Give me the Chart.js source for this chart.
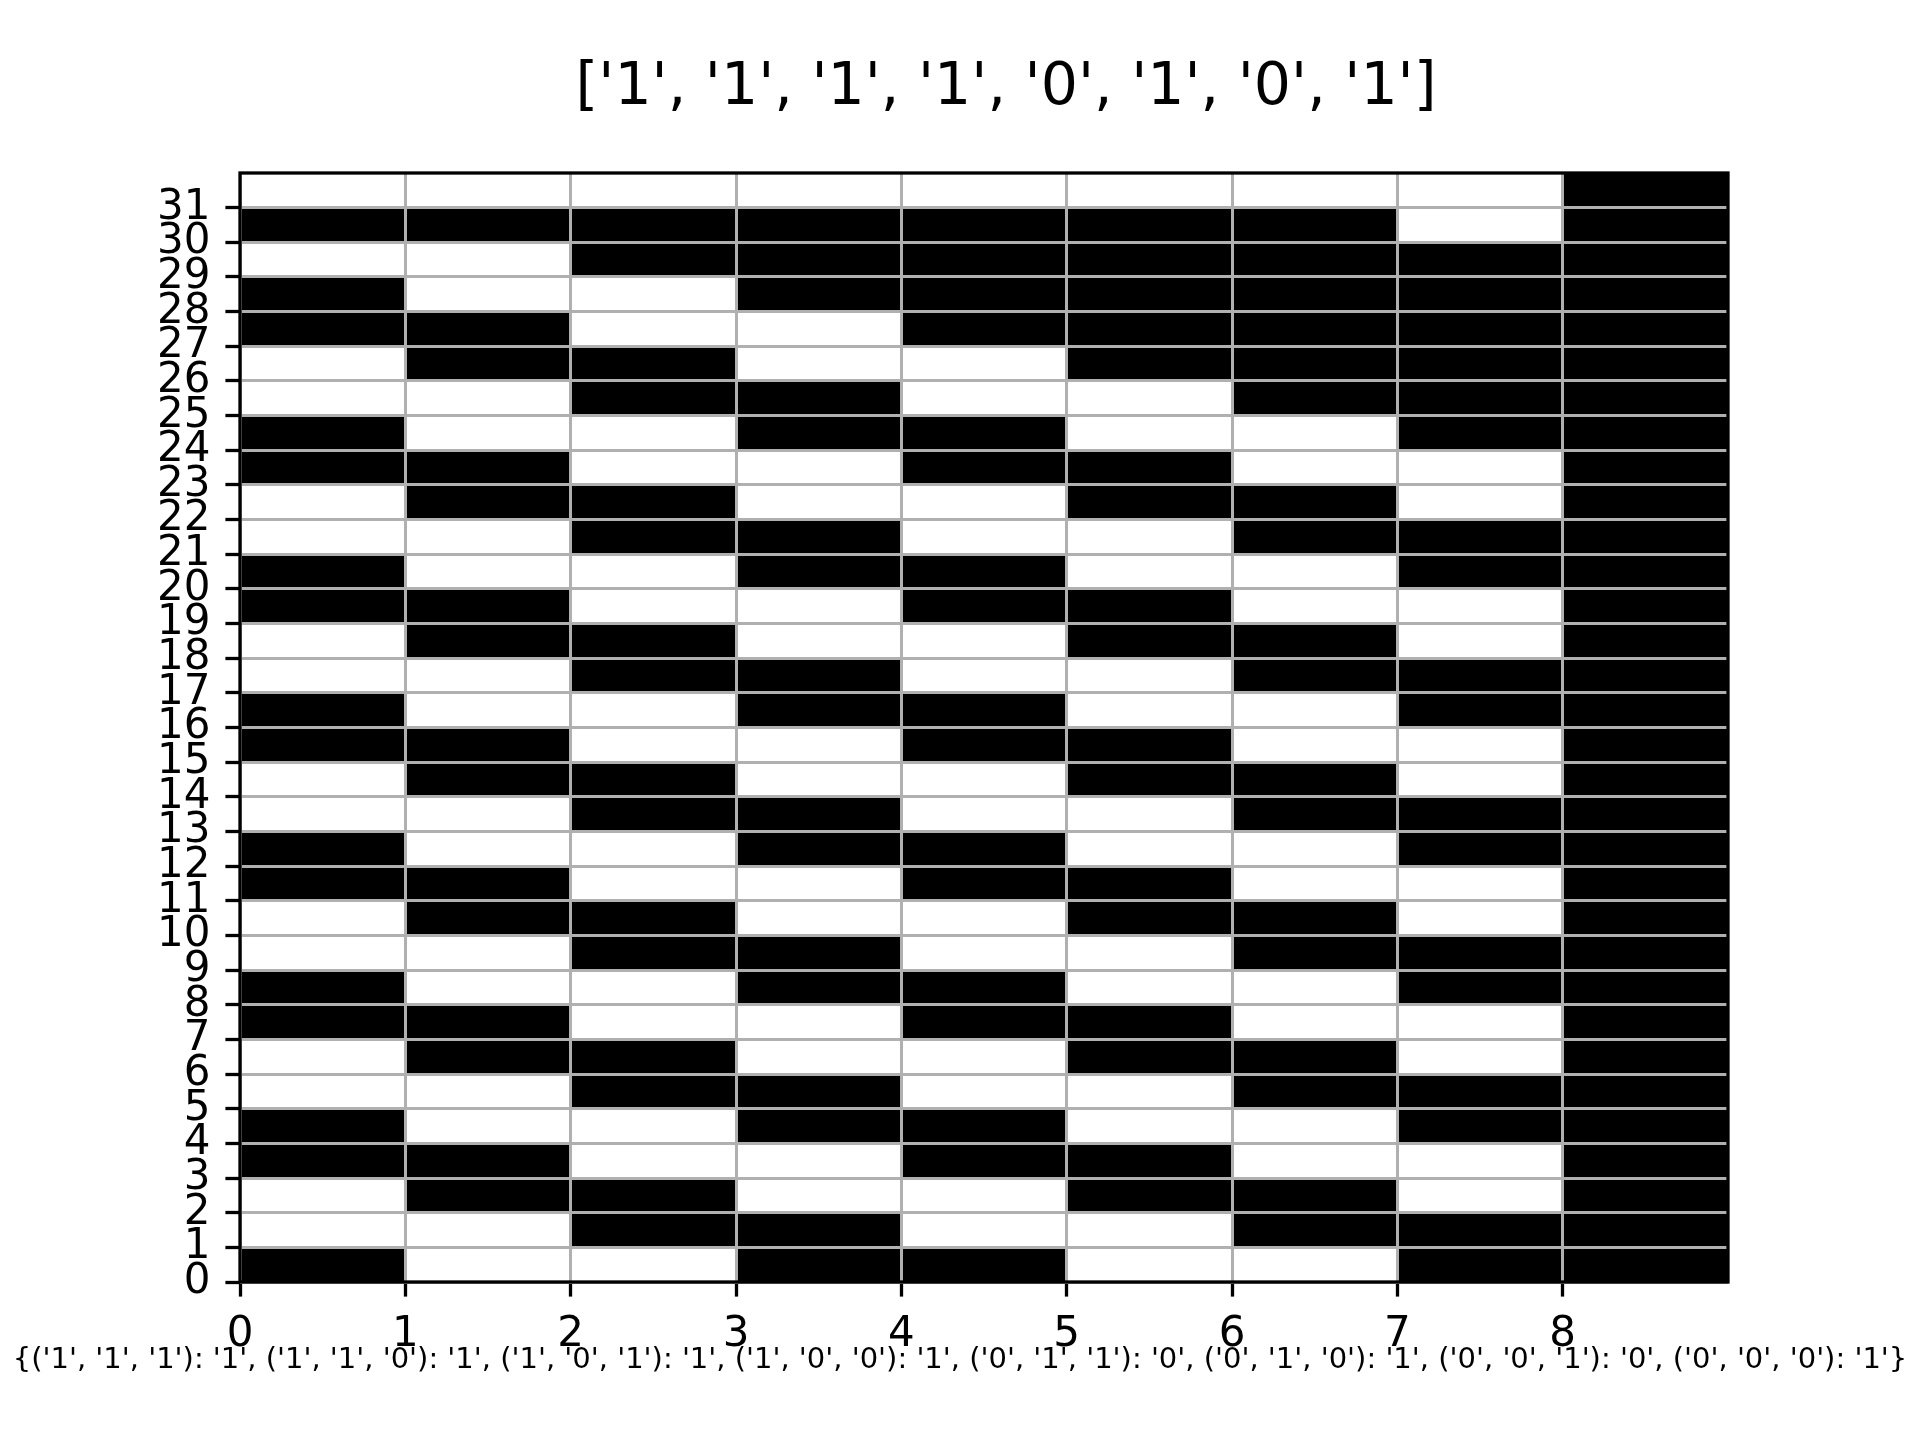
<!DOCTYPE html>
<html>
<head>
<meta charset="utf-8">
<script src="https://cdn.jsdelivr.net/npm/chart.js@4.4.1/dist/chart.umd.min.js"></script>
<style>
  html, body { margin: 0; padding: 0; background: #ffffff; }
  #wrap { width: 1920px; height: 1440px; position: relative; }
</style>
</head>
<body>
<div id="wrap"><canvas id="c"></canvas></div>
<script>
// ---- data ----
const titleText = "['1', '1', '1', '1', '0', '1', '0', '1']";
const ruleLabel = "{('1', '1', '1'): '1', ('1', '1', '0'): '1', ('1', '0', '1'): '1', ('1', '0', '0'): '1', ('0', '1', '1'): '0', ('0', '1', '0'): '1', ('0', '0', '1'): '0', ('0', '0', '0'): '1'}";
const xTicks = [0, 1, 2, 3, 4, 5, 6, 7, 8];
const yTicks = [0, 1, 2, 3, 4, 5, 6, 7, 8, 9, 10, 11, 12, 13, 14, 15, 16, 17, 18, 19, 20, 21, 22, 23, 24, 25, 26, 27, 28, 29, 30, 31];
// cell states, row 0 (bottom) first; 1 = black, 0 = white
const cellRows = [
  [1,0,0,1,1,0,0,1,1],
  [0,0,1,1,0,0,1,1,1],
  [0,1,1,0,0,1,1,0,1],
  [1,1,0,0,1,1,0,0,1],
  [1,0,0,1,1,0,0,1,1],
  [0,0,1,1,0,0,1,1,1],
  [0,1,1,0,0,1,1,0,1],
  [1,1,0,0,1,1,0,0,1],
  [1,0,0,1,1,0,0,1,1],
  [0,0,1,1,0,0,1,1,1],
  [0,1,1,0,0,1,1,0,1],
  [1,1,0,0,1,1,0,0,1],
  [1,0,0,1,1,0,0,1,1],
  [0,0,1,1,0,0,1,1,1],
  [0,1,1,0,0,1,1,0,1],
  [1,1,0,0,1,1,0,0,1],
  [1,0,0,1,1,0,0,1,1],
  [0,0,1,1,0,0,1,1,1],
  [0,1,1,0,0,1,1,0,1],
  [1,1,0,0,1,1,0,0,1],
  [1,0,0,1,1,0,0,1,1],
  [0,0,1,1,0,0,1,1,1],
  [0,1,1,0,0,1,1,0,1],
  [1,1,0,0,1,1,0,0,1],
  [1,0,0,1,1,0,0,1,1],
  [0,0,1,1,0,0,1,1,1],
  [0,1,1,0,0,1,1,1,1],
  [1,1,0,0,1,1,1,1,1],
  [1,0,0,1,1,1,1,1,1],
  [0,0,1,1,1,1,1,1,1],
  [1,1,1,1,1,1,1,0,1],
  [0,0,0,0,0,0,0,0,1]
];
const xMax = 9;
const yMax = 32;

// ---- build dataset from the arrays ----
const cellData = [];
cellRows.forEach((row, r) => {
  row.forEach((v, c) => {
    cellData.push({ x: [c, c + 1], y: r + 0.5, v: v });
  });
});

Chart.defaults.font.family = "'DejaVu Sans', sans-serif";
Chart.defaults.color = '#000000';

const framePlugin = {
  id: 'frameAndLabel',
  afterDraw(chart) {
    const { ctx, chartArea } = chart;
    ctx.save();
    ctx.strokeStyle = '#000000';
    ctx.lineWidth = 3.3;
    ctx.strokeRect(chartArea.left, chartArea.top, chartArea.right - chartArea.left, chartArea.bottom - chartArea.top);
    ctx.fillStyle = '#000000';
    ctx.font = "29px 'DejaVu Sans'";
    ctx.textAlign = 'center';
    ctx.textBaseline = 'middle';
    ctx.fillText(ruleLabel, chart.width / 2, 1360);
    ctx.restore();
  }
};

const gridOpts = {
  color: '#b0b0b0',
  lineWidth: 3,
  z: 1,
  offset: false,
  drawTicks: true,
  tickColor: '#000000',
  tickWidth: 3.3,
  tickLength: 14.6
};

new Chart(document.getElementById('c'), {
  type: 'bar',
  data: {
    datasets: [{
      data: cellData,
      backgroundColor: (ctx) => (ctx.raw && ctx.raw.v ? '#000000' : '#ffffff'),
      borderWidth: 0,
      barPercentage: 1,
      categoryPercentage: 1,
      grouped: false
    }]
  },
  options: {
    indexAxis: 'y',
    responsive: true,
    maintainAspectRatio: false,
    animation: false,
    events: [],
    layout: { padding: { left: 92, right: 0, top: 0, bottom: 0 } },
    plugins: {
      legend: { display: false },
      tooltip: { enabled: false },
      title: {
        display: true,
        text: titleText,
        color: '#000000',
        font: { family: "'DejaVu Sans'", size: 58.5, weight: 'normal', lineHeight: 1.2 },
        padding: { top: 54, bottom: 48.8 }
      }
    },
    scales: {
      x: {
        type: 'linear',
        position: 'bottom',
        min: 0,
        max: xMax,
        offset: false,
        afterBuildTicks: (s) => { s.ticks = xTicks.map(v => ({ value: v })); },
        afterFit: (s) => { s.height = 158; },
        ticks: { autoSkip: false, maxRotation: 0, padding: 13, color: '#000000', font: { size: 42 } },
        grid: gridOpts,
        border: { display: false }
      },
      y: {
        type: 'linear',
        position: 'left',
        min: 0,
        max: yMax,
        offset: false,
        afterBuildTicks: (s) => { s.ticks = yTicks.map(v => ({ value: v })); },
        afterFit: (s) => { s.width = 148; },
        ticks: { autoSkip: false, padding: 15, color: '#000000', font: { size: 42 } },
        grid: gridOpts,
        border: { display: false }
      },
      yR: {
        type: 'linear',
        position: 'right',
        display: true,
        min: 0,
        max: yMax,
        afterFit: (s) => { s.width = 192; },
        ticks: { display: false },
        grid: { display: false },
        border: { display: false }
      }
    }
  },
  plugins: [framePlugin]
});
</script>
</body>
</html>
